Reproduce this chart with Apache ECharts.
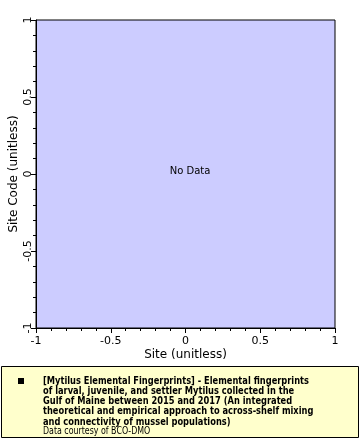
<!DOCTYPE html>
<html><head><meta charset="utf-8">
<script src="https://cdn.jsdelivr.net/npm/echarts@6/dist/echarts.min.js"></script>
<style>html,body{margin:0;padding:0;background:#fff}#c{width:360px;height:440px}</style>
</head><body><div id="c"></div>
<script>
var xTicks = [-1, -0.5, 0, 0.5, 1];
var yTicks = [-1, -0.5, 0, 0.5, 1];
var seriesValues = [];
var legendLines = [
  '[Mytilus Elemental Fingerprints] - Elemental fingerprints',
  'of larval, juvenile, and settler Mytilus collected in the',
  'Gulf of Maine between 2015 and 2017 (An integrated',
  'theoretical and empirical approach to across-shelf mixing',
  'and connectivity of mussel populations)'
];
var credit = 'Data courtesy of BCO-DMO';
var F = 'DejaVu Sans';
var boldFont = 'bold 10.5px "DejaVu Sans Condensed"';
var regFont = '10px "DejaVu Sans Condensed"';
var cv = document.createElement('canvas').getContext('2d');
cv.font = boldFont;
var w1 = cv.measureText(legendLines[0]).width;
var sx = 266 / w1;
var chart = echarts.init(document.getElementById('c'), null, {renderer:'canvas'});
function axisCommon(name, gap, rot, margin) {
  return {
    type:'value', min:xTicks[0], max:xTicks[xTicks.length-1], interval:0.5,
    name:name, nameLocation:'middle', nameGap:gap, nameMoveOverlap:false,
    nameTextStyle:{fontFamily:F, fontSize:12, color:'#000'},
    axisLine:{show:true, onZero:false, lineStyle:{color:'#000', width:1}},
    axisTick:{show:true, inside:false, length:5, lineStyle:{color:'#000'}},
    minorTick:{show:true, splitNumber:5, length:3, lineStyle:{color:'#000'}},
    splitLine:{show:false},
    axisLabel:{fontFamily:F, fontSize:11, color:'#000', margin:margin, rotate:rot,
      formatter:function(v){return String(v);}}
  };
}
var xa = axisCommon('Site (unitless)', 21, 0, 8);
var ya = axisCommon('Site Code (unitless)', 16, 90, 2);
ya.min = yTicks[0]; ya.max = yTicks[yTicks.length-1];
var gfx = [
  {type:'rect', shape:{x:1.5, y:366.5, width:357, height:71}, style:{fill:'#ffffcc', stroke:'#000', lineWidth:1}},
  {type:'rect', shape:{x:18, y:378, width:6, height:6}, style:{fill:'#000'}},
  {type:'text', x:190, y:171, style:{text:'No Data', font:'10px "DejaVu Sans"', fill:'#000', align:'center', verticalAlign:'middle'}}
];
legendLines.forEach(function(t,i){
  gfx.push({type:'text', x:43, y:381+i*10.2, scaleX:sx, style:{text:t, font:boldFont, fill:'#000', verticalAlign:'middle'}});
});
gfx.push({type:'text', x:43, y:431, scaleX:sx, style:{text:credit, font:regFont, fill:'#000', verticalAlign:'middle'}});
chart.setOption({
  animation:false,
  grid:{left:36, right:25, top:20, bottom:112, outerBoundsMode:'none', containLabel:false, show:true, backgroundColor:'#ccccff', borderColor:'#000', borderWidth:1},
  xAxis:xa, yAxis:ya,
  series:[{type:'scatter', data:seriesValues}],
  graphic:gfx
});
</script></body></html>
